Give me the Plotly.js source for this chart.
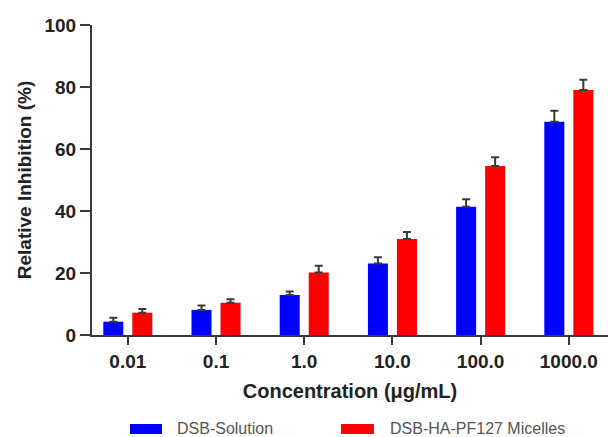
<!DOCTYPE html>
<html>
<head>
<meta charset="utf-8">
<script src="https://cdn.plot.ly/plotly-3.0.1.min.js"></script>
<style>
  html, body { margin: 0; padding: 0; background: #fff; }
  #chart { width: 608px; height: 437px; }
</style>
</head>
<body>
<div id="chart"></div>
<script>
// ---- data ----
var concentrations = ["0.01", "0.1", "1.0", "10.0", "100.0", "1000.0"];
var seriesNames = ["DSB-Solution", "DSB-HA-PF127 Micelles"];
var solutionValues = [4.3, 8.1, 12.9, 23.1, 41.4, 68.8];
var solutionErrors = [1.3, 1.4, 1.1, 2.0, 2.4, 3.5];
var micelleValues = [7.2, 10.4, 20.2, 31.0, 54.5, 79.0];
var micelleErrors = [1.2, 1.1, 2.1, 2.2, 2.8, 3.3];
var yTicks = [0, 20, 40, 60, 80, 100];
var seriesColors = ["#0000ff", "#ff0000"];

var FONT = "Liberation Sans, Arial, Helvetica, sans-serif";
var axisColor = "#3a3a3a";

function zeros(n) { var a = []; for (var i = 0; i < n; i++) a.push(0); return a; }

function barTrace(name, values, errors, color) {
  return {
    type: "bar",
    name: name,
    x: concentrations,
    y: values,
    marker: { color: color, line: { width: 0 } },
    error_y: {
      type: "data",
      symmetric: false,
      array: errors,
      arrayminus: zeros(errors.length),
      color: axisColor,
      thickness: 2,
      width: 4
    },
    showlegend: false,
    hoverinfo: "x+y"
  };
}

var data = [
  barTrace(seriesNames[0], solutionValues, solutionErrors, seriesColors[0]),
  barTrace(seriesNames[1], micelleValues, micelleErrors, seriesColors[1])
];

// custom legend (swatches + labels) in paper coordinates
var legendItems = [
  { x0: 0.0736, x1: 0.1357, tx: 0.1610 },
  { x0: 0.4826, x1: 0.5465, tx: 0.5740 }
];
var shapes = [];
var annotations = [];
legendItems.forEach(function (it, i) {
  shapes.push({
    type: "rect", xref: "paper", yref: "paper",
    x0: it.x0, x1: it.x1, y0: -0.319, y1: -0.287,
    fillcolor: seriesColors[i], line: { width: 0 }
  });
  annotations.push({
    xref: "paper", yref: "paper", x: it.tx, y: -0.303,
    xanchor: "left", yanchor: "middle", showarrow: false,
    text: seriesNames[i],
    font: { family: FONT, size: 16, color: "#555" }
  });
});

var layout = {
  width: 608,
  height: 437,
  margin: { l: 92, r: 0, t: 25, b: 102, pad: 0 },
  paper_bgcolor: "#fff",
  plot_bgcolor: "#fff",
  barmode: "group",
  bargap: 0.342,
  bargroupgap: 0.31,
  showlegend: false,
  font: { family: FONT, color: "#222" },
  xaxis: {
    type: "category",
    range: [-0.406, 5.444],
    showgrid: false,
    zeroline: false,
    showline: true,
    linecolor: axisColor,
    linewidth: 2,
    ticks: "outside",
    ticklen: 8,
    tickwidth: 2,
    tickcolor: axisColor,
    ticklabelstandoff: 0,
    tickfont: { family: FONT, size: 19, color: "#222", weight: "bold" },
    title: {
      text: "<b>Concentration (μg/mL)</b>",
      font: { family: FONT, size: 20, color: "#222" },
      standoff: 13
    },
    fixedrange: true
  },
  yaxis: {
    range: [0, 100],
    tickvals: yTicks,
    ticktext: yTicks.map(String),
    showgrid: false,
    zeroline: false,
    showline: true,
    linecolor: axisColor,
    linewidth: 2,
    ticks: "outside",
    ticklen: 10,
    tickwidth: 2,
    tickcolor: axisColor,
    tickfont: { family: FONT, size: 19, color: "#222", weight: "bold" },
    title: {
      text: "<b>Relative Inhibition (%)</b>",
      font: { family: FONT, size: 19, color: "#222" },
      standoff: 8
    },
    fixedrange: true
  },
  shapes: shapes,
  annotations: annotations
};

Plotly.newPlot("chart", data, layout, { displayModeBar: false, staticPlot: true });
</script>
</body>
</html>
